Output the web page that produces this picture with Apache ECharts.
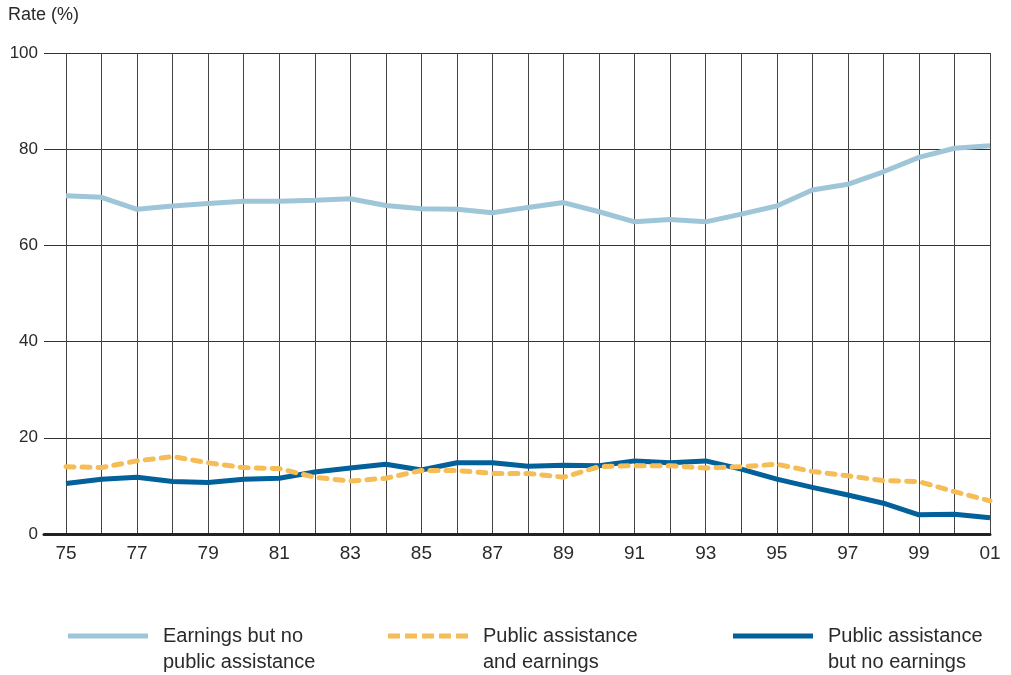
<!DOCTYPE html>
<html>
<head>
<meta charset="utf-8">
<script src="https://cdn.jsdelivr.net/npm/echarts@6/dist/echarts.min.js"></script>
<style>html,body{margin:0;padding:0;background:#fff}#c{width:1011px;height:675px}</style>
</head>
<body>
<div id="c"></div>
<script>
const years = ['75','76','77','78','79','80','81','82','83','84','85','86','87','88','89','90','91','92','93','94','95','96','97','98','99','00','01'];
const yTicks = [0, 20, 40, 60, 80, 100];
const earningsNoPA = [70.3,70.0,67.5,68.2,68.7,69.2,69.2,69.4,69.7,68.3,67.6,67.5,66.8,67.9,68.9,67.0,64.9,65.4,64.9,66.5,68.2,71.5,72.7,75.3,78.3,80.2,80.7];
const paAndEarnings = [14.0,13.8,15.2,16.1,14.8,13.8,13.6,11.8,11.0,11.6,13.2,13.2,12.6,12.6,11.8,14.0,14.2,14.2,13.7,14.0,14.5,13.0,12.1,11.1,10.9,8.8,6.9];
const paNoEarnings = [10.5,11.4,11.8,10.9,10.7,11.4,11.6,12.9,13.7,14.5,13.3,14.8,14.8,14.1,14.3,14.2,15.2,14.8,15.2,13.5,11.4,9.7,8.1,6.4,4.0,4.1,3.4];
const seriesNames = ['Earnings but no\npublic assistance', 'Public assistance\nand earnings', 'Public assistance\nbut no earnings'];

const FONT = '"Liberation Sans", Arial, sans-serif';
const SOLID_ICON = 'path://M0,0H80V5H0Z';
const DASH_ICON = 'path://M0,0H12V5H0Z M17,0H29V5H17Z M34,0H46V5H34Z M51,0H63V5H51Z M68,0H80V5H68Z';
const chart = echarts.init(document.getElementById('c'));
const legendBase = (name, left, icon) => ({
  data: [{ name: name, icon: icon }], left: left, top: 597, padding: 0,
  itemWidth: 80, itemHeight: 5,
  formatter: n => '\n' + n,
  textStyle: { fontFamily: FONT, fontSize: 20, color: '#2a2a2a', lineHeight: 26, padding: [0, 0, 0, 10] },
  selectedMode: false
});
chart.setOption({
  animation: false,
  backgroundColor: '#fff',
  title: { text: 'Rate (%)', left: 3, top: 1, textStyle: { fontFamily: FONT, fontSize: 18, fontWeight: 'normal', color: '#2a2a2a' } },
  legend: [legendBase(seriesNames[0], 68, SOLID_ICON), legendBase(seriesNames[1], 388, DASH_ICON), legendBase(seriesNames[2], 733, SOLID_ICON)],
  grid: [
    { left: 44, right: 21, top: 53, height: 481, containLabel: false },
    { left: 66, right: 21, top: 53, height: 481, containLabel: false }
  ],
  xAxis: [
    { gridIndex: 0, type: 'value', min: 0, max: 1, axisLine: { show: true, onZero: false, lineStyle: { color: '#222', width: 3 } }, axisTick: { show: false }, axisLabel: { show: false }, splitLine: { show: false } },
    { gridIndex: 1, type: 'category', data: years, boundaryGap: false,
      axisLine: { show: false }, axisTick: { show: false },
      axisLabel: { interval: 1, fontFamily: FONT, fontSize: 19, color: '#2a2a2a', margin: 10 },
      splitLine: { show: true, interval: 0, lineStyle: { color: '#444', width: 1 } } }
  ],
  yAxis: [
    { gridIndex: 0, type: 'value', min: yTicks[0], max: yTicks[yTicks.length - 1], interval: 20,
      axisLine: { show: false }, axisTick: { show: false },
      axisLabel: { fontFamily: FONT, fontSize: 17, color: '#2a2a2a', margin: 6 },
      splitLine: { show: true, lineStyle: { color: '#333', width: 1 } } },
    { gridIndex: 1, type: 'value', min: 0, max: 100, show: false, splitLine: { show: false } }
  ],
  series: [
    { name: seriesNames[0], type: 'line', xAxisIndex: 1, yAxisIndex: 1, data: earningsNoPA, showSymbol: false, symbol: 'none', z: 5,
      lineStyle: { color: '#9fc6d8', width: 5 }, itemStyle: { color: '#9fc6d8' } },
    { name: seriesNames[1], type: 'line', xAxisIndex: 1, yAxisIndex: 1, data: paAndEarnings, showSymbol: false, symbol: 'none', z: 4,
      lineStyle: { color: '#f6bd56', width: 5, type: [8, 8], cap: 'round' }, itemStyle: { color: '#f6bd56' } },
    { name: seriesNames[2], type: 'line', xAxisIndex: 1, yAxisIndex: 1, data: paNoEarnings, showSymbol: false, symbol: 'none', z: 3,
      lineStyle: { color: '#02609a', width: 5 }, itemStyle: { color: '#02609a' } }
  ]
});
</script>
</body>
</html>
